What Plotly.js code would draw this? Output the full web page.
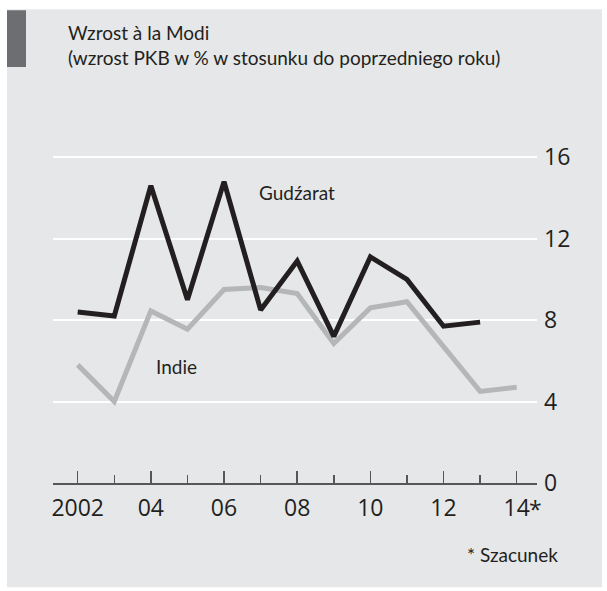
<!DOCTYPE html>
<html>
<head>
<meta charset="utf-8">
<script src="https://cdn.plot.ly/plotly-3.0.1.min.js"></script>
<style>html,body{margin:0;padding:0;background:#fff;}#chart{width:607px;height:591px;}</style>
</head>
<body>
<div id="chart"></div>
<script>
// ---- data ----
const years = [2002, 2003, 2004, 2005, 2006, 2007, 2008, 2009, 2010, 2011, 2012, 2013, 2014];
const gujaratYears = [2002, 2003, 2004, 2005, 2006, 2007, 2008, 2009, 2010, 2011, 2012, 2013];
const gujarat = [8.4, 8.2, 14.6, 9.0, 14.8, 8.5, 10.9, 7.2, 11.1, 10.0, 7.7, 7.9];
const india = [5.8, 4.0, 8.45, 7.55, 9.5, 9.6, 9.3, 6.85, 8.6, 8.9, 6.7, 4.5, 4.7];
const xTickVals = [2002, 2004, 2006, 2008, 2010, 2012, 2014];
const xTickText = ['2002', '04', '06', '08', '10', '12', '14'];
const xMinorVals = [2003, 2005, 2007, 2009, 2011, 2013];
const yTickVals = [0, 4, 8, 12, 16];
const yTickText = ['0', '4', '8', '12', '16'];

// ---- geometry (pixels) ----
const W = 607, H = 591;
const L = 53, R = 537, T = 147, B = 483.5;
const pw = R - L, ph = B - T;
const px = x => (x - L) / pw;
const py = y => (B - y) / ph;

const dark = '#231f20';
const tickFont = {family: 'Open Sans, sans-serif', size: 23, color: dark};
const textFont = {family: 'Lato, sans-serif', size: 19, color: dark};

const traces = [
  {x: years, y: india, type: 'scatter', mode: 'lines', name: 'Indie',
   line: {color: '#b5b6b8', width: 5}, hoverinfo: 'skip'},
  {x: gujaratYears, y: gujarat, type: 'scatter', mode: 'lines', name: 'Gudźarat',
   line: {color: dark, width: 5}, hoverinfo: 'skip'}
];

const layout = {
  width: W, height: H,
  margin: {l: L, r: W - R, t: T, b: H - B, pad: 0},
  paper_bgcolor: '#ffffff',
  plot_bgcolor: 'rgba(0,0,0,0)',
  showlegend: false,
  title: {
    text: 'Wzrost à la Modi<br>(wzrost PKB w % w stosunku do poprzedniego roku)',
    font: {family: 'Lato, sans-serif', size: 19, color: dark},
    xref: 'container', yref: 'container',
    x: 68 / W, xanchor: 'left',
    y: 1 - 40 / H, yanchor: 'top'
  },
  xaxis: {
    range: [2001.325, 2014.555],
    tickmode: 'array', tickvals: xTickVals, ticktext: xTickText,
    showgrid: false, zeroline: false,
    showline: true, linecolor: '#555658', linewidth: 1.5,
    ticks: 'inside', ticklen: 12, tickwidth: 1.5, tickcolor: '#555658',
    minor: {tickmode: 'array', tickvals: xMinorVals, ticks: 'inside', ticklen: 8, tickwidth: 1.5, tickcolor: '#555658', showgrid: false},
    tickfont: tickFont,
    ticklabelstandoff: 4,
    fixedrange: true
  },
  yaxis: {
    range: [0, 16.5],
    side: 'right',
    tickmode: 'array', tickvals: yTickVals, ticktext: yTickText,
    showgrid: true, gridcolor: '#ffffff', gridwidth: 2,
    zeroline: false, showline: false, ticks: '',
    tickfont: tickFont,
    ticklabelstandoff: 6,
    fixedrange: true
  },
  shapes: [
    {type: 'rect', xref: 'paper', yref: 'paper', layer: 'below',
     x0: px(7), x1: px(602), y0: py(588), y1: py(9),
     fillcolor: '#e6e7e8', line: {width: 0}},
    {type: 'rect', xref: 'paper', yref: 'paper', layer: 'below',
     x0: px(7), x1: px(26), y0: py(67), y1: py(10),
     fillcolor: '#6d6e71', line: {width: 0}}
  ],
  annotations: [
    {text: 'Gudźarat', xref: 'x', yref: 'y', x: 2006.9, y: 14.28,
     xanchor: 'left', yanchor: 'middle', showarrow: false, font: textFont},
    {text: 'Indie', xref: 'x', yref: 'y', x: 2004.086, y: 5.71,
     xanchor: 'left', yanchor: 'middle', showarrow: false, font: textFont},
    {text: '* Szacunek', xref: 'paper', yref: 'paper', x: px(560), y: py(555),
     xanchor: 'right', yanchor: 'middle', showarrow: false, font: textFont},
    {text: '*', xref: 'x', yref: 'paper', x: 2014, xshift: 10, y: py(492),
     xanchor: 'left', yanchor: 'top', showarrow: false, font: tickFont}
  ]
};

Plotly.newPlot('chart', traces, layout, {displayModeBar: false, staticPlot: true});
</script>
</body>
</html>
